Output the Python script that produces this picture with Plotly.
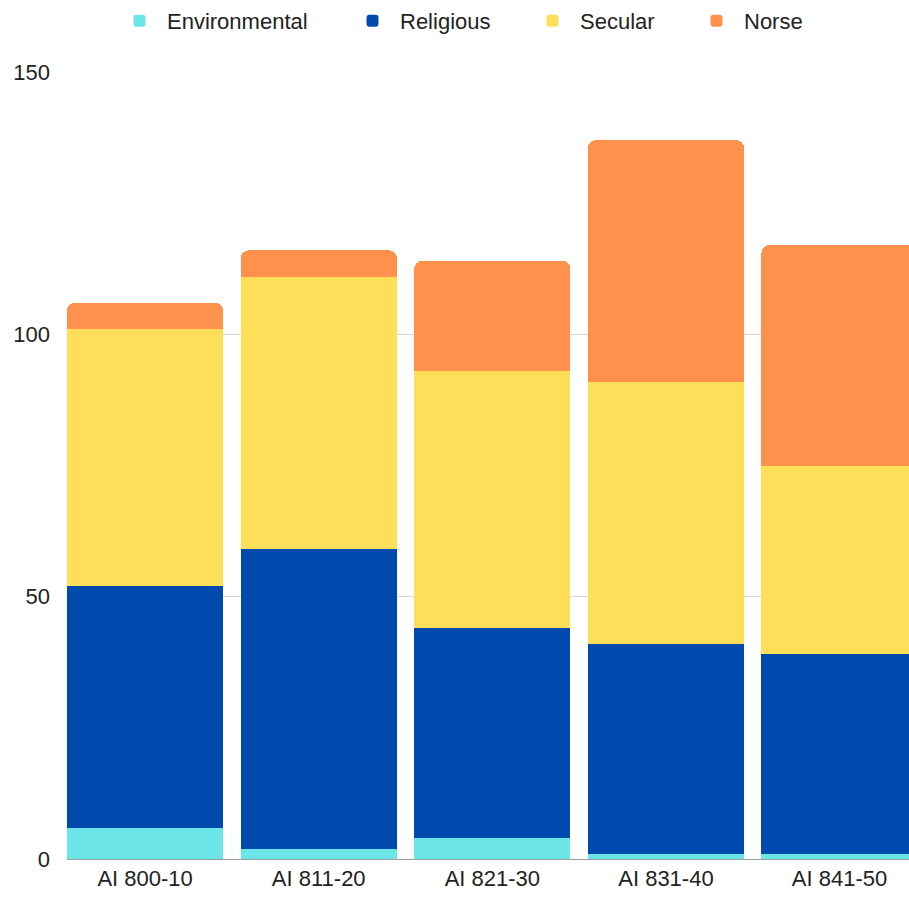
import plotly.graph_objects as go

# Decades and counts per category (stacked)
periods = ["AI 800-10", "AI 811-20", "AI 821-30", "AI 831-40", "AI 841-50"]
environmental = [6, 2, 4, 1, 1]
religious = [46, 57, 40, 40, 38]
secular = [49, 52, 49, 50, 36]
norse = [5, 5, 21, 46, 42]

y_ticks = [0, 50, 100, 150]

series = [
    ("Environmental", environmental, "#6CE5E8"),
    ("Religious", religious, "#004AAD"),
    ("Secular", secular, "#FFDE59"),
    ("Norse", norse, "#FF914D"),
]

# each series gets its own one-entry legend so the entries can be spaced freely
legend_ids = ["legend", "legend2", "legend3", "legend4"]
legend_left_px = [112, 345, 525, 689]

W, H = 909, 898
FONT = "Liberation Sans, Arial, sans-serif"

fig = go.Figure()
for (name, vals, color), lid in zip(series, legend_ids):
    fig.add_trace(go.Bar(
        x=periods, y=vals, name=name,
        marker=dict(color=color, line=dict(width=0)),
        legend=lid,
        showlegend=True,
    ))

legend_layout = {}
for lid, left in zip(legend_ids, legend_left_px):
    legend_layout[lid] = dict(
        orientation="h",
        xref="container", yref="container",
        x=left / W, xanchor="left",
        y=1 - 21 / H, yanchor="middle",
        itemwidth=45,
        bgcolor="rgba(0,0,0,0)",
        font=dict(family=FONT, size=22, color="#222222"),
    )

fig.update_layout(
    width=W, height=H,
    showlegend=True,
    barmode="stack",
    bargap=0.1,
    barcornerradius=8,
    paper_bgcolor="white",
    plot_bgcolor="white",
    margin=dict(l=67, r=0, t=72, b=39),
    font=dict(family=FONT, size=22, color="#222222"),
    xaxis=dict(
        type="category",
        range=[-0.45, 4.4],
        showgrid=False,
        showline=True, linecolor="#9E9E9E", linewidth=1,
        ticks="",
        tickfont=dict(size=22),
    ),
    yaxis=dict(
        range=[0, 150],
        tickvals=y_ticks,
        showgrid=True, gridcolor="#D6D6D6", gridwidth=1,
        zeroline=False,
        showline=False,
        ticks="",
        ticklabelstandoff=16,
        tickfont=dict(size=22),
    ),
    **legend_layout,
)

fig.write_html("out.html")
